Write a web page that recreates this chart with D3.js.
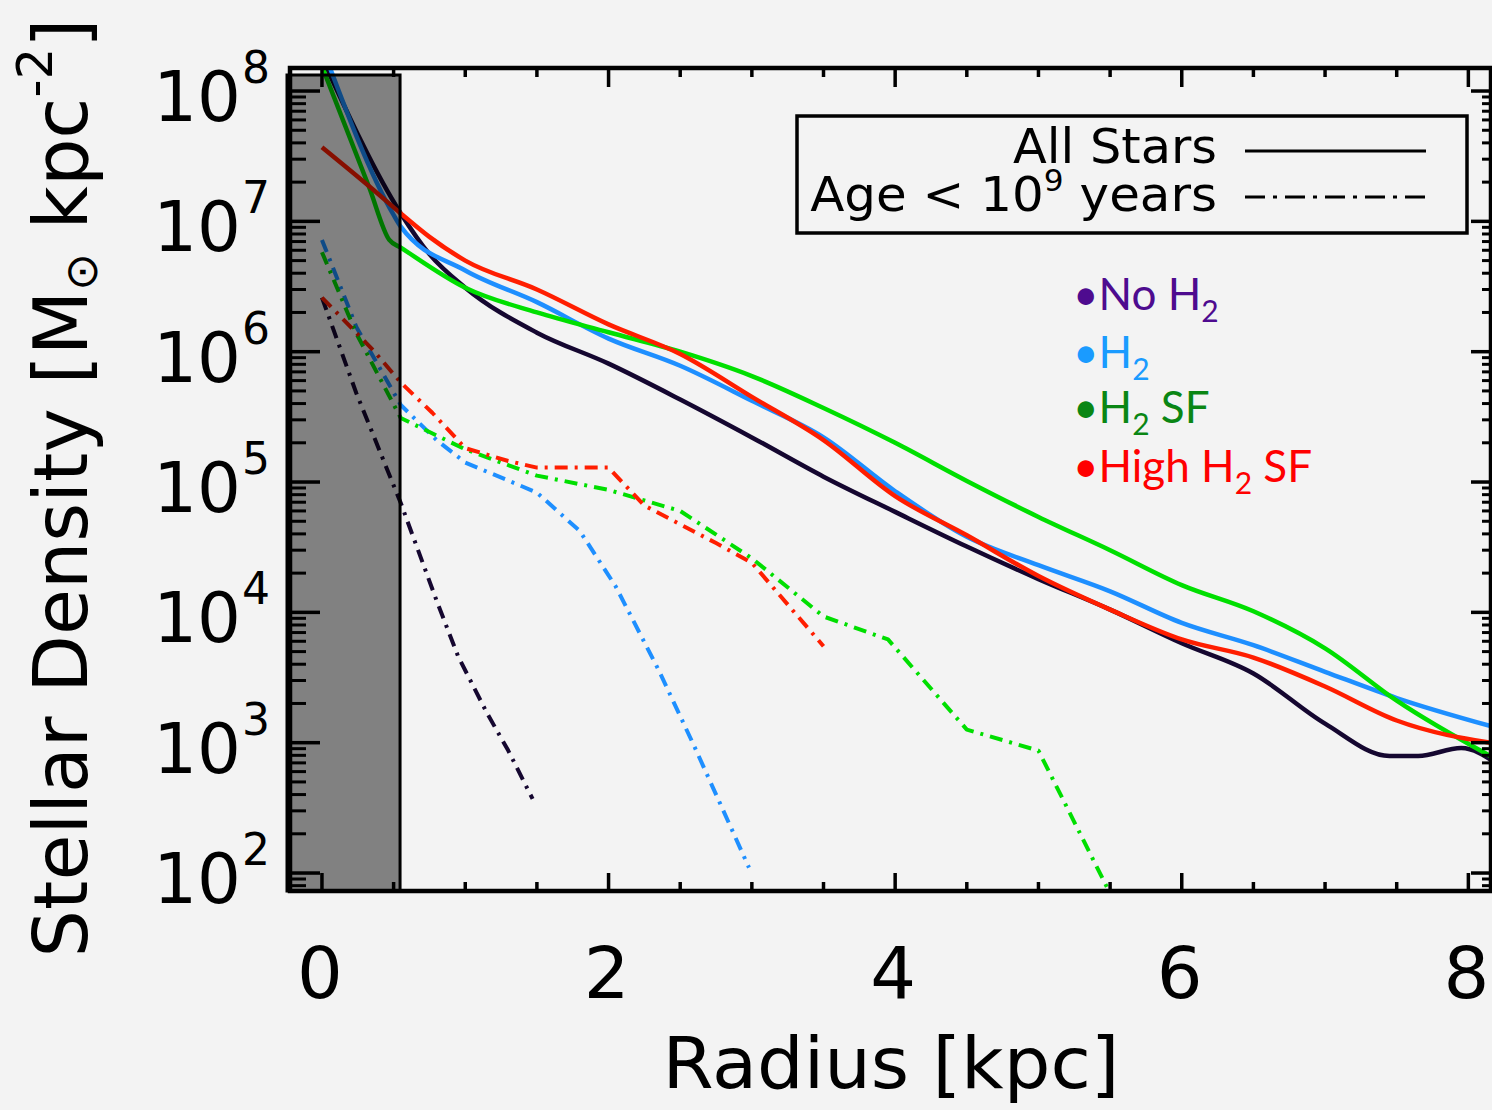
<!DOCTYPE html>
<html>
<head>
<meta charset="utf-8">
<script src="https://cdnjs.cloudflare.com/ajax/libs/d3/7.8.5/d3.min.js"></script>
<style>
  html, body { margin: 0; padding: 0; background: #f3f3f3; }
  svg { display: block; }
</style>
</head>
<body>
<div id="chart"></div>
<script>
// ─────────────────────────────────────────────
// DATA  (radius in kpc, stellar density in Msun kpc^-2)
// ─────────────────────────────────────────────
// all stars, solid lines
const allNoH2R    = [0, 0.55, 0.75, 1.0, 1.5, 2.0, 2.5, 3.0, 3.5, 4.0, 4.5, 5.0, 5.5, 6.0, 6.5, 7.0, 7.45, 7.65, 7.95, 8.2];
const allNoH2     = [1.8e8, 1.15e7, 5.6e6, 3.1e6, 1.4e6, 8.1e5, 4.3e5, 2.2e5, 1.1e5, 5.9e4, 3.2e4, 1.8e4, 1.05e4, 5.8e3, 3.4e3, 1.4e3, 790, 790, 910, 690];
const allH2R      = [0, 0.5, 0.55, 1.0, 1.5, 2.0, 2.5, 3.0, 3.5, 4.0, 4.5, 5.0, 5.5, 6.0, 6.5, 7.0, 7.5, 8.2];
const allH2       = [2.2e8, 1.12e7, 9.1e6, 4.2e6, 2.4e6, 1.26e6, 7.8e5, 4.2e5, 2.2e5, 8.5e4, 3.8e4, 2.3e4, 1.45e4, 8.3e3, 5.6e3, 3.5e3, 2.2e3, 1.3e3];
const allH2SFR    = [0, 0.33, 0.47, 0.55, 1.0, 1.5, 2.0, 2.5, 3.0, 3.5, 4.0, 4.5, 5.0, 5.5, 6.0, 6.5, 7.0, 7.5, 8.2];
const allH2SF     = [1.55e8, 1.82e7, 7.2e6, 6.3e6, 3.1e6, 2.0e6, 1.41e6, 1.0e6, 6.5e5, 3.7e5, 2.0e5, 1.02e5, 5.4e4, 3.0e4, 1.62e4, 1.02e4, 5.3e3, 2.1e3, 740];
const allHighR    = [0, 0.36, 0.55, 0.75, 1.0, 1.5, 2.0, 2.5, 3.0, 3.5, 4.0, 4.5, 5.0, 5.5, 6.0, 6.5, 7.0, 7.5, 8.2];
const allHigh     = [3.7e7, 1.74e7, 1.15e7, 7.6e6, 5.0e6, 3.0e6, 1.62e6, 9.6e5, 4.5e5, 2.1e5, 7.8e4, 3.9e4, 1.9e4, 1.05e4, 6.2e3, 4.5e3, 2.7e3, 1.48e3, 980];

// age < 1e9 years, dash-dot lines
const youngNoH2R  = [0, 0.24, 0.55, 0.8, 0.95, 1.15, 1.3, 1.47];
const youngNoH2   = [2.6e6, 4.8e5, 6.9e4, 1.23e4, 4.6e3, 1.7e3, 870, 370];
const youngH2R    = [0, 0.24, 0.55, 0.8, 1.0, 1.5, 1.8, 2.05, 2.35, 2.6, 2.98];
const youngH2     = [7.2e6, 1.55e6, 3.9e5, 2.1e5, 1.41e5, 8.3e4, 4.2e4, 1.58e4, 3.6e3, 930, 110];
const youngH2SFR  = [0, 0.24, 0.55, 1.0, 1.5, 2.0, 2.5, 3.0, 3.5, 3.95, 4.5, 5.0, 5.52];
const youngH2SF   = [5.8e6, 1.38e6, 3.1e5, 1.78e5, 1.12e5, 8.7e4, 6.0e4, 2.6e4, 9.3e3, 6.2e3, 1.26e3, 870, 63];
const youngHighR  = [0, 0.13, 0.36, 0.55, 0.77, 1.0, 1.3, 1.5, 2.0, 2.25, 2.75, 3.0, 3.5];
const youngHigh   = [2.6e6, 1.86e6, 1.02e6, 5.8e5, 3.4e5, 1.82e5, 1.45e5, 1.29e5, 1.29e5, 6.6e4, 3.4e4, 2.4e4, 5.5e3];

// axes and labels
const xTicks      = [0, 2, 4, 6, 8];
const xTickLabels = ['0', '2', '4', '6', '8'];
const yTicks      = [1e2, 1e3, 1e4, 1e5, 1e6, 1e7, 1e8];
const yTickExp    = ['2', '3', '4', '5', '6', '7', '8'];
const innerRegion = 0.545;   // shaded central region, kpc
const legendText  = ['All Stars', 'Age < 10', '9', ' years'];
const modelLabels = [['•No H', '2', ''], ['•H', '2', ''], ['•H', '2', ' SF'], ['•High H', '2', ' SF']];

// ─────────────────────────────────────────────
// STYLES
// ─────────────────────────────────────────────
const W = 1492, H = 1110;
const BG       = '#f3f3f3';
const C_NOH2   = '#150730';
const C_H2     = '#1e8fff';
const C_H2SF   = '#00df00';
const C_HIGH   = '#ff1e00';
const LABEL_COLORS = ['#4e0b8f', '#1a9bff', '#0a8614', '#ff0000'];
const AXIS_FONT = "'DejaVu Sans', sans-serif";
const DASHDOT   = '13,7,3,7';

const PLOT = { left: 290, right: 1491, top: 68, bottom: 891 };

const x = d3.scaleLinear().domain([-0.223, 8.158]).range([PLOT.left, PLOT.right]);
const y = d3.scaleLog().domain([72.8, 1.502e8]).range([PLOT.bottom, PLOT.top]);

const svg = d3.select('#chart').append('svg').attr('width', W).attr('height', H);
svg.append('rect').attr('width', W).attr('height', H).attr('fill', BG);

svg.append('defs').append('clipPath').attr('id', 'plotClip').append('rect')
  .attr('x', PLOT.left).attr('y', PLOT.top)
  .attr('width', PLOT.right - PLOT.left).attr('height', PLOT.bottom - PLOT.top);

// ─────────────────────────────────────────────
// LINES
// ─────────────────────────────────────────────
const zip = (r, v) => r.map((d, i) => [d, v[i]]);
const series = [
  { pts: zip(allNoH2R, allNoH2),     color: C_NOH2, dash: null },
  { pts: zip(allH2R, allH2),         color: C_H2,   dash: null },
  { pts: zip(allH2SFR, allH2SF),     color: C_H2SF, dash: null },
  { pts: zip(allHighR, allHigh),     color: C_HIGH, dash: null },
  { pts: zip(youngNoH2R, youngNoH2), color: C_NOH2, dash: DASHDOT },
  { pts: zip(youngH2R, youngH2),     color: C_H2,   dash: DASHDOT },
  { pts: zip(youngH2SFR, youngH2SF), color: C_H2SF, dash: DASHDOT },
  { pts: zip(youngHighR, youngHigh), color: C_HIGH, dash: DASHDOT }
];

const gLines = svg.append('g').attr('clip-path', 'url(#plotClip)');
series.forEach(s => {
  const line = d3.line()
    .x(d => x(d[0])).y(d => y(d[1]))
    .curve(s.dash ? d3.curveLinear : d3.curveMonotoneX);
  gLines.append('path')
    .datum(s.pts)
    .attr('d', line)
    .attr('fill', 'none')
    .attr('stroke', s.color)
    .attr('stroke-width', s.dash ? 4 : 4.5)
    .attr('stroke-dasharray', s.dash)
    .attr('stroke-linejoin', 'round');
});

// shaded inner region, drawn over the lines (they darken inside)
svg.append('rect')
  .attr('x', PLOT.left - 3).attr('y', PLOT.top + 7)
  .attr('width', x(innerRegion) - PLOT.left + 3)
  .attr('height', PLOT.bottom - PLOT.top - 7)
  .attr('fill', 'rgba(0,0,0,0.47)')
  .attr('stroke', '#000').attr('stroke-width', 3);

// ─────────────────────────────────────────────
// FRAME + TICKS
// ─────────────────────────────────────────────
const gAx = svg.append('g').attr('stroke', '#000');
gAx.append('rect')
  .attr('x', PLOT.left).attr('y', PLOT.top)
  .attr('width', PLOT.right - PLOT.left).attr('height', PLOT.bottom - PLOT.top)
  .attr('fill', 'none').attr('stroke-width', 4.5);

const xMinor = d3.range(0, 8.01, 0.5);
xMinor.forEach(t => {
  const major = xTicks.includes(t);
  const px = x(t);
  gAx.append('line').attr('x1', px).attr('x2', px)
    .attr('y1', PLOT.bottom).attr('y2', PLOT.bottom - (major ? 18 : 9)).attr('stroke-width', 3.5);
  gAx.append('line').attr('x1', px).attr('x2', px)
    .attr('y1', PLOT.top).attr('y2', PLOT.top + (major ? 19 : 9)).attr('stroke-width', 3.5);
});

const yMinor = [];
for (let e = 1; e <= 8; e++) for (let k = 2; k <= 9; k++) {
  const v = k * Math.pow(10, e);
  if (v > y.domain()[0] && v < y.domain()[1]) yMinor.push(v);
}
yMinor.forEach(v => {
  const py = y(v);
  gAx.append('line').attr('x1', PLOT.left).attr('x2', PLOT.left + 16)
    .attr('y1', py).attr('y2', py).attr('stroke-width', 3);
  gAx.append('line').attr('x1', PLOT.right).attr('x2', PLOT.right - 9)
    .attr('y1', py).attr('y2', py).attr('stroke-width', 3);
});
yTicks.forEach(v => {
  const py = y(v);
  gAx.append('line').attr('x1', PLOT.left).attr('x2', PLOT.left + 30)
    .attr('y1', py).attr('y2', py).attr('stroke-width', 3.5);
  gAx.append('line').attr('x1', PLOT.right).attr('x2', PLOT.right - 20)
    .attr('y1', py).attr('y2', py).attr('stroke-width', 3.5);
});

// tick labels
xTicks.forEach((t, i) => {
  svg.append('text')
    .attr('x', x(t) - 2).attr('y', 998)
    .attr('text-anchor', 'middle')
    .attr('font-family', AXIS_FONT).attr('font-size', 72)
    .attr('fill', '#000')
    .text(xTickLabels[i]);
});
yTicks.forEach((v, i) => {
  const py = y(v);
  svg.append('text')
    .attr('x', 241).attr('y', py + 30)
    .attr('text-anchor', 'end')
    .attr('font-family', AXIS_FONT).attr('font-size', 69)
    .attr('fill', '#000')
    .text('10');
  svg.append('text')
    .attr('x', 242).attr('y', py - 8)
    .attr('font-family', AXIS_FONT).attr('font-size', 44)
    .attr('fill', '#000')
    .text(yTickExp[i]);
});

// stretch a text so that its width matches the picture
function fitWidth(txt, ax, ay, target, rot) {
  const w = txt.node().getBBox().width;
  txt.attr('transform', `translate(${ax},${ay})${rot ? ' rotate(-90)' : ''} scale(${target / w},1)`);
}

// axis titles
const xTitle = svg.append('text')
  .attr('text-anchor', 'middle')
  .attr('font-family', AXIS_FONT).attr('font-size', 72)
  .attr('fill', '#000')
  .text('Radius [kpc]');
fitWidth(xTitle, 891, 1088, 457, false);

const yTitle = svg.append('text')
  .attr('text-anchor', 'middle')
  .attr('font-family', AXIS_FONT).attr('font-size', 75)
  .attr('fill', '#000');
yTitle.append('tspan').text('Stellar Density [M');
yTitle.append('tspan').attr('font-size', 45).attr('dy', 10).text('\u2299');
yTitle.append('tspan').attr('dy', -10).text(' kpc');
yTitle.append('tspan').attr('font-size', 50).attr('dy', -35).text('-2');
yTitle.append('tspan').attr('dy', 35).text(']');
fitWidth(yTitle, 87, 488, 939, true);

// ─────────────────────────────────────────────
// LEGEND
// ─────────────────────────────────────────────
svg.append('rect')
  .attr('x', 797).attr('y', 116).attr('width', 670).attr('height', 117)
  .attr('fill', 'none').attr('stroke', '#000').attr('stroke-width', 3.5);

const legAll = svg.append('text')
  .attr('text-anchor', 'end')
  .attr('font-family', AXIS_FONT).attr('font-size', 48).attr('fill', '#000')
  .text(legendText[0]);
fitWidth(legAll, 1217, 163, 204, false);

const legAge = svg.append('text')
  .attr('text-anchor', 'end')
  .attr('font-family', AXIS_FONT).attr('font-size', 48).attr('fill', '#000');
legAge.append('tspan').text(legendText[1]);
legAge.append('tspan').attr('font-size', 30).attr('dy', -20).text(legendText[2]);
legAge.append('tspan').attr('dy', 20).text(legendText[3]);
fitWidth(legAge, 1217, 211, 407, false);

svg.append('line').attr('x1', 1245).attr('x2', 1426).attr('y1', 151).attr('y2', 151)
  .attr('stroke', '#000').attr('stroke-width', 3);
svg.append('line').attr('x1', 1245).attr('x2', 1426).attr('y1', 197).attr('y2', 197)
  .attr('stroke', '#000').attr('stroke-width', 3).attr('stroke-dasharray', '20,8,4,8');

// model names
const labelBase = [310, 368, 423, 482];
modelLabels.forEach((parts, i) => {
  const t = svg.append('text')
    .attr('x', 1073).attr('y', labelBase[i])
    .attr('font-family', "Lato, 'Open Sans', sans-serif").attr('font-size', 44)
    .attr('fill', LABEL_COLORS[i]);
  t.append('tspan').text(parts[0]);
  t.append('tspan').attr('font-size', 30).attr('dy', 12).text(parts[1]);
  if (parts[2]) t.append('tspan').attr('dy', -12).text(parts[2]);
});
</script>
</body>
</html>
